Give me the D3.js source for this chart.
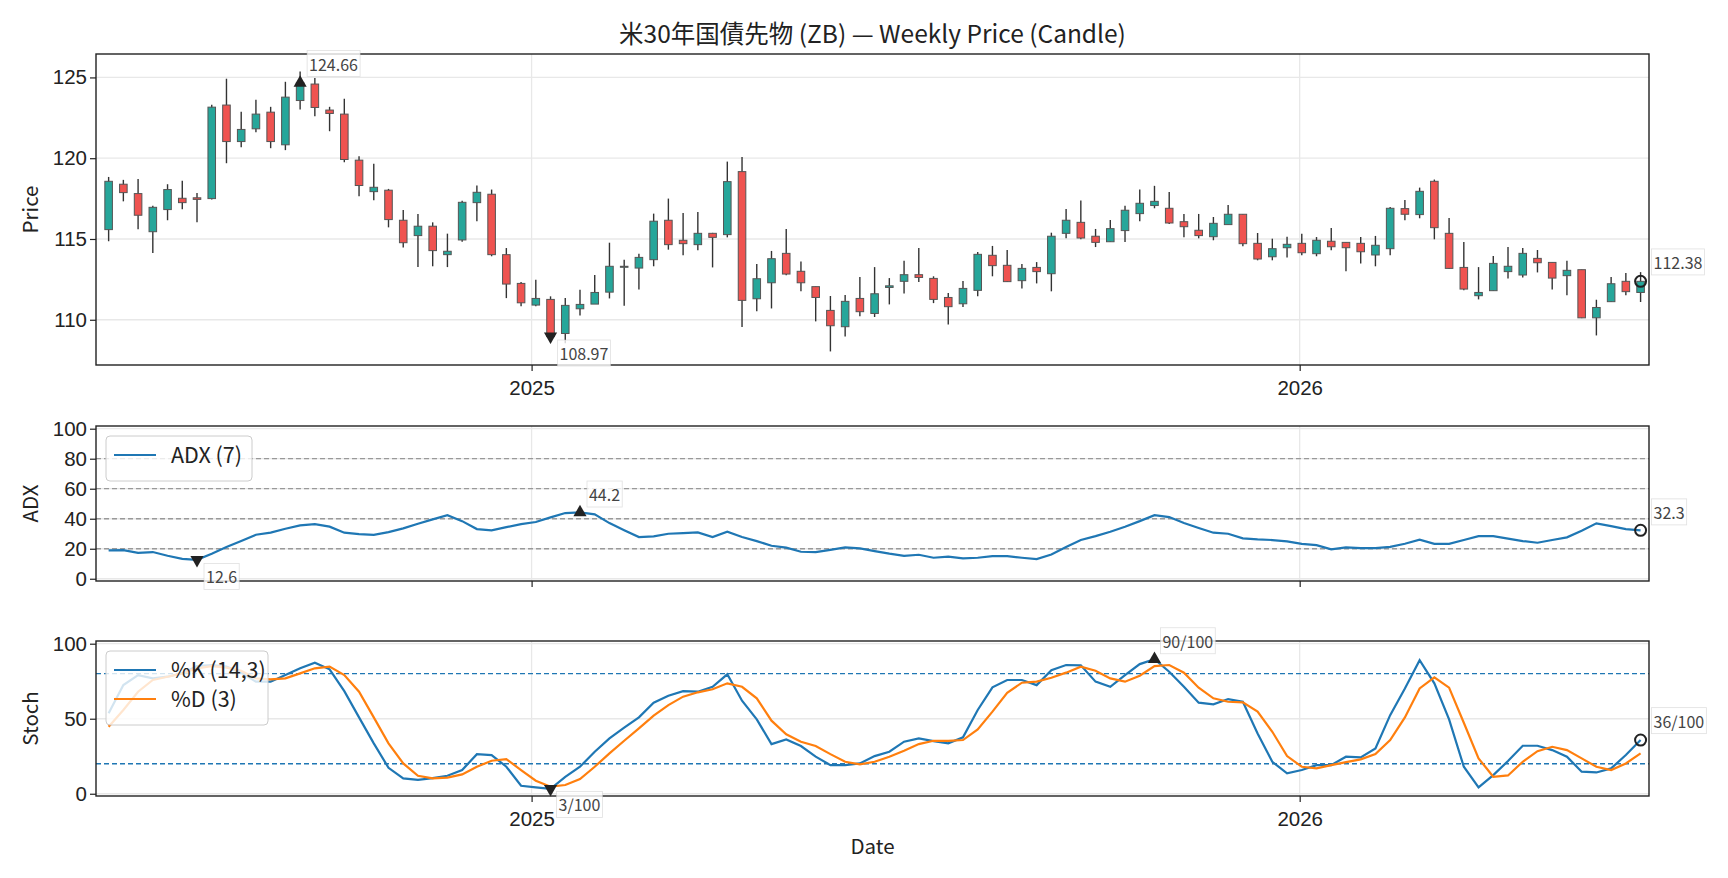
<!DOCTYPE html>
<html>
<head>
<meta charset="utf-8">
<script src="https://cdnjs.cloudflare.com/ajax/libs/d3/7.8.5/d3.min.js"></script>
<style>
  body { margin: 0; background: #fff; }
  svg { display: block; font-family: "Noto Sans CJK JP", "Noto Sans", sans-serif; }
</style>
</head>
<body>
<svg id="chart" width="1728" height="878"></svg>
<script>

// weekly candles, first week ending 2024-06-14
var firstWeek = new Date(2024, 5, 14);

var opens = [115.58,118.39,117.81,115.45,116.82,117.52,117.55,117.5,123.29,121.03,
  121.82,122.85,120.83,123.57,124.59,122.98,122.73,119.88,117.93,118.02,
  116.16,115.21,115.79,114.03,114.94,117.25,117.77,114.03,112.25,110.91,
  111.26,109.15,110.68,110.97,111.71,113.27,113.2,113.72,116.16,114.92,
  114.65,115.35,115.27,119.17,111.3,112.29,114.11,113.0,112.05,110.58,
  109.57,111.32,110.39,112.0,112.38,112.79,112.56,111.38,110.99,111.82,
  113.99,113.37,112.42,113.24,112.85,115.35,116.03,115.17,114.83,115.52,
  116.57,117.07,116.9,116.07,115.54,115.14,115.89,116.53,114.73,113.9,
  114.46,114.73,114.09,114.86,114.79,114.73,114.01,114.4,116.88,116.51,
  118.57,115.35,113.24,111.49,111.8,112.98,112.77,113.8,113.55,112.73,
  113.1,110.12,111.12,112.38,111.69];

var highs = [118.84,118.66,118.72,117.05,118.39,118.6,117.85,123.31,124.92,122.87,
  123.62,123.18,124.73,125.37,124.96,123.18,123.68,120.12,119.65,118.1,
  116.8,116.55,116.03,115.33,117.36,118.31,118.06,114.44,112.33,112.48,
  111.45,111.34,111.86,112.77,114.77,113.72,114.09,116.57,117.5,116.61,
  116.67,115.38,119.79,120.08,113.45,114.26,115.62,113.6,112.05,111.47,
  111.53,112.64,113.26,112.58,113.66,114.44,112.69,111.65,112.4,114.19,
  114.57,114.32,113.45,113.57,115.39,116.86,117.38,115.62,116.18,117.05,
  118.06,118.29,117.91,116.55,116.55,116.36,117.11,116.53,115.37,115.02,
  115.14,115.33,115.12,115.68,114.79,115.12,115.19,116.98,117.42,118.18,
  118.68,116.3,114.81,113.26,113.95,114.5,114.44,114.32,113.55,113.66,
  113.1,111.24,112.64,112.89,112.95];

var lows = [114.86,117.33,115.6,114.13,116.16,116.84,116.03,117.45,119.69,120.68,
  121.61,120.62,120.5,123.02,122.6,121.67,119.75,117.64,117.4,115.72,
  114.48,113.26,113.31,113.26,114.83,116.1,113.93,111.34,110.83,110.83,
  108.85,108.55,110.27,110.97,111.32,110.87,111.88,113.31,114.34,113.99,
  114.3,113.24,115.1,109.55,110.52,110.7,112.75,111.76,109.9,108.04,
  108.97,110.21,110.17,110.95,111.63,112.33,111.03,109.71,110.79,111.45,
  112.69,112.33,111.94,112.25,111.76,115.04,114.98,114.5,114.83,114.81,
  116.1,116.9,115.93,115.1,115.04,114.92,115.89,114.55,113.68,113.68,
  113.86,113.99,113.93,114.3,113.0,113.49,113.31,113.99,116.16,116.28,
  114.98,113.14,111.82,111.26,111.8,112.56,112.62,112.93,111.88,111.51,
  110.1,109.03,111.12,111.51,111.1];

var closes = [118.57,117.87,116.47,116.96,118.06,117.25,117.45,123.16,121.03,121.78,
  122.73,121.03,123.78,124.66,123.14,122.77,119.92,118.31,118.2,116.2,
  114.77,115.79,114.28,114.24,117.27,117.89,114.03,112.21,111.05,111.32,
  108.97,110.89,110.95,111.69,113.31,113.31,113.86,116.1,114.65,114.71,
  115.35,115.1,118.55,111.2,112.54,113.78,112.83,112.29,111.38,109.63,
  111.14,110.5,111.61,112.1,112.79,112.62,111.26,110.81,111.94,114.05,
  113.35,112.36,113.18,112.98,115.17,116.16,115.06,114.79,115.64,116.78,
  117.21,117.33,115.99,115.76,115.21,115.97,116.53,114.71,113.76,114.4,
  114.67,114.15,114.92,114.52,114.46,114.21,114.61,116.9,116.53,117.95,
  115.7,113.18,111.9,111.69,113.49,113.31,114.11,113.53,112.58,113.06,
  110.12,110.76,112.23,111.74,112.38];

var adx = [18.9,19.1,17.3,17.8,15.3,13.3,12.6,16.7,21.1,25.1,
  29.3,30.7,33.3,35.6,36.4,34.7,30.7,29.8,29.3,31.1,
  33.6,36.7,39.6,42.4,38.4,33.1,32.2,34.4,36.4,37.8,
  40.9,43.8,44.2,42.9,37.1,32.4,27.8,28.2,30.0,30.4,
  30.9,27.8,31.3,27.8,25.1,22.0,20.7,18.0,17.8,19.3,
  20.9,20.2,18.4,16.7,15.3,16.0,14.0,14.7,13.6,14.0,
  15.1,15.1,14.0,13.1,16.2,21.1,25.8,28.4,31.3,34.7,
  38.4,42.4,41.1,37.1,33.8,30.7,30.0,26.9,26.2,25.8,
  24.9,23.3,22.4,19.6,20.9,20.4,20.4,21.3,23.3,26.0,
  23.3,23.3,25.8,28.4,28.4,26.7,25.1,24.0,25.8,27.6,
  32.0,36.9,35.1,33.1,32.3];

var stochK = [53.6,72.4,79.1,76.9,78.0,80.2,85.1,85.8,84.7,80.7,
  74.7,74.7,79.1,83.6,87.3,82.9,68.4,50.9,33.6,17.3,
  10.2,9.3,10.4,12.0,15.8,26.4,25.8,18.0,5.3,4.2,
  3.3,11.3,18.0,28.0,36.9,44.0,50.9,60.7,65.3,68.4,
  68.0,71.3,79.6,62.0,49.6,33.1,36.2,31.8,24.7,19.1,
  19.1,20.2,25.1,28.0,34.7,36.9,35.1,33.6,37.6,55.8,
  70.9,75.8,75.8,72.4,82.4,85.8,85.6,74.7,71.3,79.1,
  86.4,89.7,81.3,71.3,60.7,59.6,63.1,61.3,40.2,21.3,
  13.6,15.8,19.1,19.1,24.7,24.2,30.2,52.4,70.2,89.0,
  73.6,49.6,18.0,4.2,12.4,21.8,32.0,32.0,29.1,24.7,
  14.7,14.2,16.9,25.8,35.8];

var stochD = [44.7,55.8,68.0,75.8,78.0,80.2,83.6,85.1,84.0,82.0,
  76.9,76.2,76.9,80.2,83.6,84.7,79.1,68.0,50.9,33.6,
  20.2,12.0,10.2,10.7,12.9,18.0,22.0,23.1,15.8,8.7,
  4.7,5.8,9.8,18.0,26.9,35.3,43.6,52.0,59.1,64.7,
  67.6,69.6,73.6,71.3,63.6,48.7,39.6,34.7,31.8,26.4,
  21.3,19.6,21.3,24.7,28.7,33.1,35.3,35.3,35.8,42.9,
  54.7,67.3,74.0,74.7,77.3,80.7,84.7,82.0,76.9,74.7,
  78.7,85.1,85.8,80.7,70.7,63.6,61.3,60.9,54.7,41.3,
  25.1,18.0,16.9,19.1,21.1,22.9,26.4,35.8,50.9,70.2,
  77.6,70.7,47.3,23.6,11.3,12.2,21.3,28.4,31.3,29.1,
  23.6,18.0,15.8,20.2,26.9];

var priceTicks = [110, 115, 120, 125];
var adxTicks = [0, 20, 40, 60, 80, 100];
var adxLevels = [20, 40, 60, 80];
var stochTicks = [0, 50, 100];
var stochLevels = [20, 80];

var title = "米30年国債先物 (ZB) — Weekly Price (Candle)";

var dates = d3.range(opens.length).map(function(i) { return d3.timeDay.offset(firstWeek, 7 * i); });

var svg = d3.select("#chart");
var left = 96, right = 1649;
var upCol = "#26a69a", downCol = "#ef5350", gridCol = "#e8e8e8";
var fs = 20.5;

var x = d3.scaleTime()
    .domain([d3.timeDay.offset(dates[0], -6), d3.timeDay.offset(dates[dates.length - 1], 4)])
    .range([left, right]);

var yP = d3.scaleLinear().domain([107.2, 126.45]).range([365, 54]);
var yA = d3.scaleLinear().domain([-1.5, 101.8]).range([581, 426]);
var yS = d3.scaleLinear().domain([-1.5, 101.8]).range([796, 641]);

svg.append("rect").attr("width", 1728).attr("height", 878).attr("fill", "#fff");

// title
svg.append("text")
    .attr("x", (left + right) / 2).attr("y", 34)
    .attr("dy", "0.35em")
    .attr("text-anchor", "middle")
    .style("font-size", "24.5px")
    .attr("fill", "#222")
    .text(title);

function panel(y, ticks, label, showXLabels) {
  var g = svg.append("g");
  var top = y.range()[1], bottom = y.range()[0];
  var years = x.ticks(d3.timeYear.every(1));

  // grid
  g.selectAll(".hg").data(ticks).enter().append("line")
      .attr("x1", left).attr("x2", right)
      .attr("y1", function(d) { return y(d); }).attr("y2", function(d) { return y(d); })
      .attr("stroke", gridCol).attr("stroke-width", 1.3);
  g.selectAll(".vg").data(years).enter().append("line")
      .attr("x1", function(d) { return x(d); }).attr("x2", function(d) { return x(d); })
      .attr("y1", top).attr("y2", bottom)
      .attr("stroke", gridCol).attr("stroke-width", 1.3);

  // y axis
  var ya = g.append("g")
      .attr("transform", "translate(" + left + ",0)")
      .call(d3.axisLeft(y).tickValues(ticks).tickSize(6).tickPadding(3).tickFormat(d3.format("d")));
  ya.select(".domain").remove();
  ya.selectAll("line").attr("stroke", "#222").attr("stroke-width", 1.2);
  ya.selectAll("text").style("font-size", fs + "px").attr("fill", "#222").style("font-family", null);

  // x axis
  var xa = g.append("g")
      .attr("transform", "translate(0," + bottom + ")")
      .call(d3.axisBottom(x).ticks(d3.timeYear.every(1)).tickSize(6).tickPadding(9)
        .tickFormat(showXLabels ? d3.timeFormat("%Y") : ""));
  xa.select(".domain").remove();
  xa.selectAll("line").attr("stroke", "#222").attr("stroke-width", 1.2);
  xa.selectAll("text").style("font-size", fs + "px").attr("fill", "#222").style("font-family", null);

  // y label
  svg.append("text")
      .attr("transform", "translate(31," + ((top + bottom) / 2) + ") rotate(-90)")
      .attr("dy", "0.35em")
      .attr("text-anchor", "middle")
      .style("font-size", fs + "px")
      .attr("fill", "#222")
      .text(label);

  return g;
}

function frame(y) {
  var top = y.range()[1], bottom = y.range()[0];
  svg.append("rect")
      .attr("x", left).attr("y", top)
      .attr("width", right - left).attr("height", bottom - top)
      .attr("fill", "none").attr("stroke", "#222").attr("stroke-width", 1.4);
}

// annotation: marker + value label
var annoLayer;
function annotate(type, xv, yv, txt, dx, dy) {
  var px = x(xv), py = yv;
  if (type === "o") {
    annoLayer.append("circle").attr("cx", px).attr("cy", py).attr("r", 5.5)
        .attr("fill", "none").attr("stroke", "#222").attr("stroke-width", 2);
  } else {
    annoLayer.append("path")
        .attr("d", d3.symbol().type(d3.symbolTriangle).size(75)())
        .attr("transform", "translate(" + px + "," + py + ")" + (type === "v" ? " rotate(180)" : ""))
        .attr("fill", "#222");
  }
  var lg = annoLayer.append("g");
  var t = lg.append("text")
      .attr("x", px + dx).attr("y", py + dy)
      .attr("dy", "0.35em")
      .style("font-size", "16px")
      .attr("fill", "#444")
      .text(txt);
  var bb = t.node().getBBox();
  lg.insert("rect", "text")
      .attr("x", bb.x - 2).attr("y", bb.y - 1)
      .attr("width", bb.width + 4).attr("height", bb.height + 2)
      .attr("fill", "#fff").attr("fill-opacity", 0.8)
      .attr("stroke", "#ccc").attr("stroke-opacity", 0.6).attr("stroke-width", 0.8);
}

function legend(x0, y0, items, w) {
  var h = 16 + items.length * 29;
  var g = svg.append("g");
  g.append("rect").attr("x", x0).attr("y", y0).attr("width", w).attr("height", h)
      .attr("rx", 4).attr("fill", "#fff").attr("fill-opacity", 0.8)
      .attr("stroke", "#cccccc").attr("stroke-width", 1);
  items.forEach(function(it, i) {
    var cy = y0 + 19 + i * 29;
    g.append("line").attr("x1", x0 + 8).attr("x2", x0 + 50).attr("y1", cy).attr("y2", cy)
        .attr("stroke", it.color).attr("stroke-width", 2.2);
    g.append("text").attr("x", x0 + 65).attr("y", cy).attr("dy", "0.35em")
        .style("font-size", "21.5px").attr("fill", "#222").text(it.name);
  });
}

// ---------- price panel ----------
var gp = panel(yP, priceTicks, "Price", true);
var pxDay = (x.range()[1] - x.range()[0]) / ((x.domain()[1] - x.domain()[0]) / 864e5);
var bodyW = 3.6 * pxDay;

var candles = gp.append("g");
candles.selectAll(".wick").data(dates).enter().append("line")
    .attr("x1", function(d) { return x(d); }).attr("x2", function(d) { return x(d); })
    .attr("y1", function(d, i) { return yP(highs[i]); })
    .attr("y2", function(d, i) { return yP(lows[i]); })
    .attr("stroke", "#333").attr("stroke-width", 1.4);
candles.selectAll(".body").data(dates).enter().append("rect")
    .attr("x", function(d) { return x(d) - bodyW / 2; })
    .attr("width", bodyW)
    .attr("y", function(d, i) { return yP(Math.max(opens[i], closes[i])); })
    .attr("height", function(d, i) { return Math.max(1, Math.abs(yP(opens[i]) - yP(closes[i]))); })
    .attr("fill", function(d, i) { return closes[i] >= opens[i] ? upCol : downCol; })
    .attr("stroke", "#555").attr("stroke-width", 1);
frame(yP);

// ---------- ADX panel ----------
var ga = panel(yA, adxTicks, "ADX", false);
ga.selectAll(".lvl").data(adxLevels).enter().append("line")
    .attr("x1", left).attr("x2", right)
    .attr("y1", function(d) { return yA(d); }).attr("y2", function(d) { return yA(d); })
    .attr("stroke", "#999").attr("stroke-width", 1.3).attr("stroke-dasharray", "5,3");
ga.append("path")
    .datum(adx)
    .attr("fill", "none").attr("stroke", "#1f77b4").attr("stroke-width", 2.2)
    .attr("d", d3.line().x(function(d, i) { return x(dates[i]); }).y(function(d) { return yA(d); }));
frame(yA);
legend(106, 436, [{name: "ADX (7)", color: "#1f77b4"}], 146);

// ---------- Stoch panel ----------
var gs = panel(yS, stochTicks, "Stoch", true);
gs.selectAll(".lvl").data(stochLevels).enter().append("line")
    .attr("x1", left).attr("x2", right)
    .attr("y1", function(d) { return yS(d); }).attr("y2", function(d) { return yS(d); })
    .attr("stroke", "#1f77b4").attr("stroke-width", 1.3).attr("stroke-dasharray", "5,3");
var stLine = d3.line().x(function(d, i) { return x(dates[i]); }).y(function(d) { return yS(d); });
gs.append("path").datum(stochK)
    .attr("fill", "none").attr("stroke", "#1f77b4").attr("stroke-width", 2.2).attr("d", stLine);
gs.append("path").datum(stochD)
    .attr("fill", "none").attr("stroke", "#ff7f0e").attr("stroke-width", 2.2).attr("d", stLine);
frame(yS);
legend(106, 651, [{name: "%K (14,3)", color: "#1f77b4"}, {name: "%D (3)", color: "#ff7f0e"}], 162);

// x label
svg.append("text")
    .attr("x", (left + right) / 2).attr("y", 847).attr("dy", "0.35em")
    .attr("text-anchor", "middle")
    .style("font-size", fs + "px").attr("fill", "#222")
    .text("Date");

// ---------- annotations ----------
annoLayer = svg.append("g");
var last = closes.length - 1;

var iMaxC = d3.maxIndex(closes), iMinC = d3.minIndex(closes);
annotate("^", dates[iMaxC], yP(closes[iMaxC]), closes[iMaxC].toFixed(2), 9, -18);
annotate("v", dates[iMinC], yP(closes[iMinC]), closes[iMinC].toFixed(2), 9, 18);
annotate("o", dates[last], yP(closes[last]), closes[last].toFixed(2), 13, -18);

var iMaxA = d3.maxIndex(adx), iMinA = d3.minIndex(adx);
annotate("^", dates[iMaxA], yA(adx[iMaxA]), adx[iMaxA].toFixed(1), 9, -17);
annotate("v", dates[iMinA], yA(adx[iMinA]), adx[iMinA].toFixed(1), 9, 18);
annotate("o", dates[last], yA(adx[last]), adx[last].toFixed(1), 13, -17);

var iMaxK = d3.maxIndex(stochK), iMinK = d3.minIndex(stochK);
annotate("^", dates[iMaxK], yS(stochK[iMaxK]), stochK[iMaxK].toFixed(0) + "/100", 8, -17);
annotate("v", dates[iMinK], yS(stochK[iMinK]), stochK[iMinK].toFixed(0) + "/100", 8, 17);
annotate("o", dates[last], yS(stochK[last]), stochK[last].toFixed(0) + "/100", 13, -18);

</script>
</body>
</html>
